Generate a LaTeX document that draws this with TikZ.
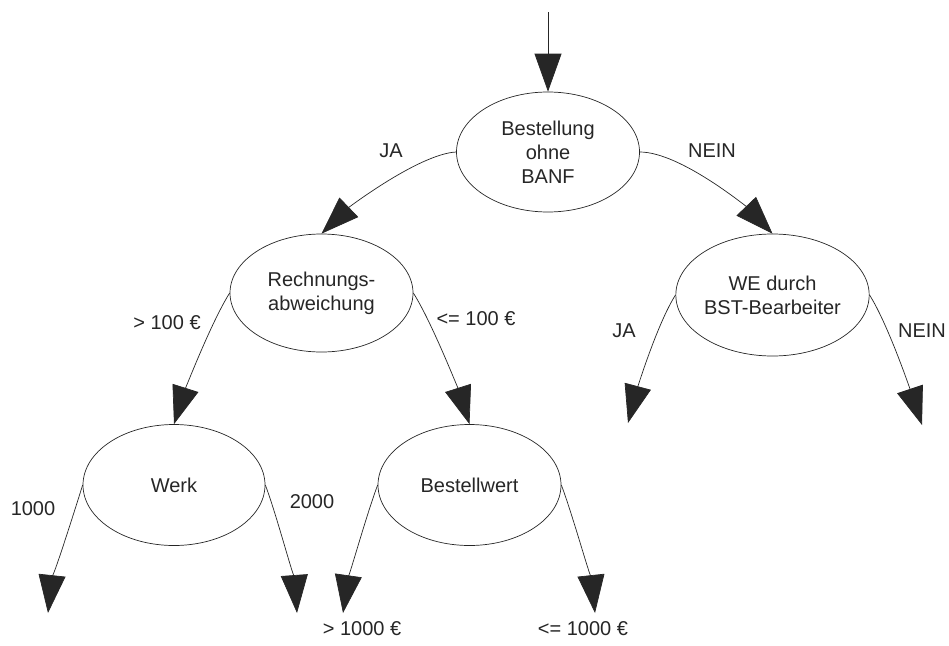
\documentclass[tikz,border=0pt]{standalone}
\usepackage{fontspec}
\setmainfont{Liberation Sans}
\usetikzlibrary{shapes.geometric,arrows.meta}
\begin{document}
\begin{tikzpicture}[x=1pt,y=-1pt,
  decision/.style={draw=black!85, line width=0.7pt, ellipse, inner sep=0pt,
    minimum width=183pt, minimum height=120pt, align=center,
    font=\fontsize{20}{24}\selectfont, text=black!85},
  branch/.style={draw=black!85, line width=0.7pt,
    -{Triangle[length=38pt,width=27pt]}},
  lbl/.style={anchor=base, inner sep=0pt, font=\fontsize{20}{24}\selectfont, text=black!85}]
\useasboundingbox (0,0) rectangle (949,645);

% decision nodes
\node[decision] (banf)  at (548,152)   {Bestellung\\ohne\\BANF};
\node[decision, minimum height=118pt] (rech) at (321.5,293) {Rechnungs-\\abweichung};
\node[decision, minimum height=122pt] (we)   at (772.5,295) {WE durch\\BST-Bearbeiter};
\node[decision, minimum width=182pt, minimum height=121pt] (werk)  at (174,485) {Werk};
\node[decision, minimum height=121pt] (bwert) at (469.5,485) {Bestellwert};

% open ends of the branches
\coordinate (entry)   at (548,12);
\coordinate (weja)    at (628,423);
\coordinate (wenein)  at (922,425);
\coordinate (werkA)   at (48,613);
\coordinate (werkB)   at (297,613);
\coordinate (bwertA)  at (343,613);
\coordinate (bwertB)  at (595,613);

% connectors
\draw[branch] (entry) -- (banf.north);
\draw[branch] (banf.west) .. controls +(-37,2) and +(27,-26) .. (rech.north);
\draw[branch] (banf.east) .. controls +(41,0) and +(-23,-24) .. (we.north);
\draw[branch] (rech.west) .. controls +(-19,30) and +(9.5,-30) .. (werk.north);
\draw[branch] (rech.east) .. controls +(19,30) and +(-9.5,-30) .. (bwert.north);
\draw[branch] (we.west) .. controls +(-19,30) and +(8,-30) .. (weja);
\draw[branch] (we.east) .. controls +(19,30) and +(-10,-30) .. (wenein);
\draw[branch] (werk.west) .. controls +(-10,32) and +(3,-28) .. (werkA);
\draw[branch] (werk.east) .. controls +(12,32) and +(-2,-28) .. (werkB);
\draw[branch] (bwert.west) .. controls +(-12,32) and +(4,-28) .. (bwertA);
\draw[branch] (bwert.east) .. controls +(12,32) and +(-3,-28) .. (bwertB);

% branch labels
\node[lbl] (l1)  at (391,157) {JA};
\node[lbl] (l2)  at (712,157) {NEIN};
\node[lbl] (l3)  at (167,329) {> 100 €};
\node[lbl] (l4)  at (476,325) {<= 100 €};
\node[lbl] (l5)  at (624,337) {JA};
\node[lbl] (l6)  at (922,337) {NEIN};
\node[lbl] (l7)  at (33,515)  {1000};
\node[lbl] (l8)  at (312,508) {2000};
\node[lbl] (l9)  at (362,635) {> 1000 €};
\node[lbl] (l10) at (583,635) {<= 1000 €};
\end{tikzpicture}
\end{document}
